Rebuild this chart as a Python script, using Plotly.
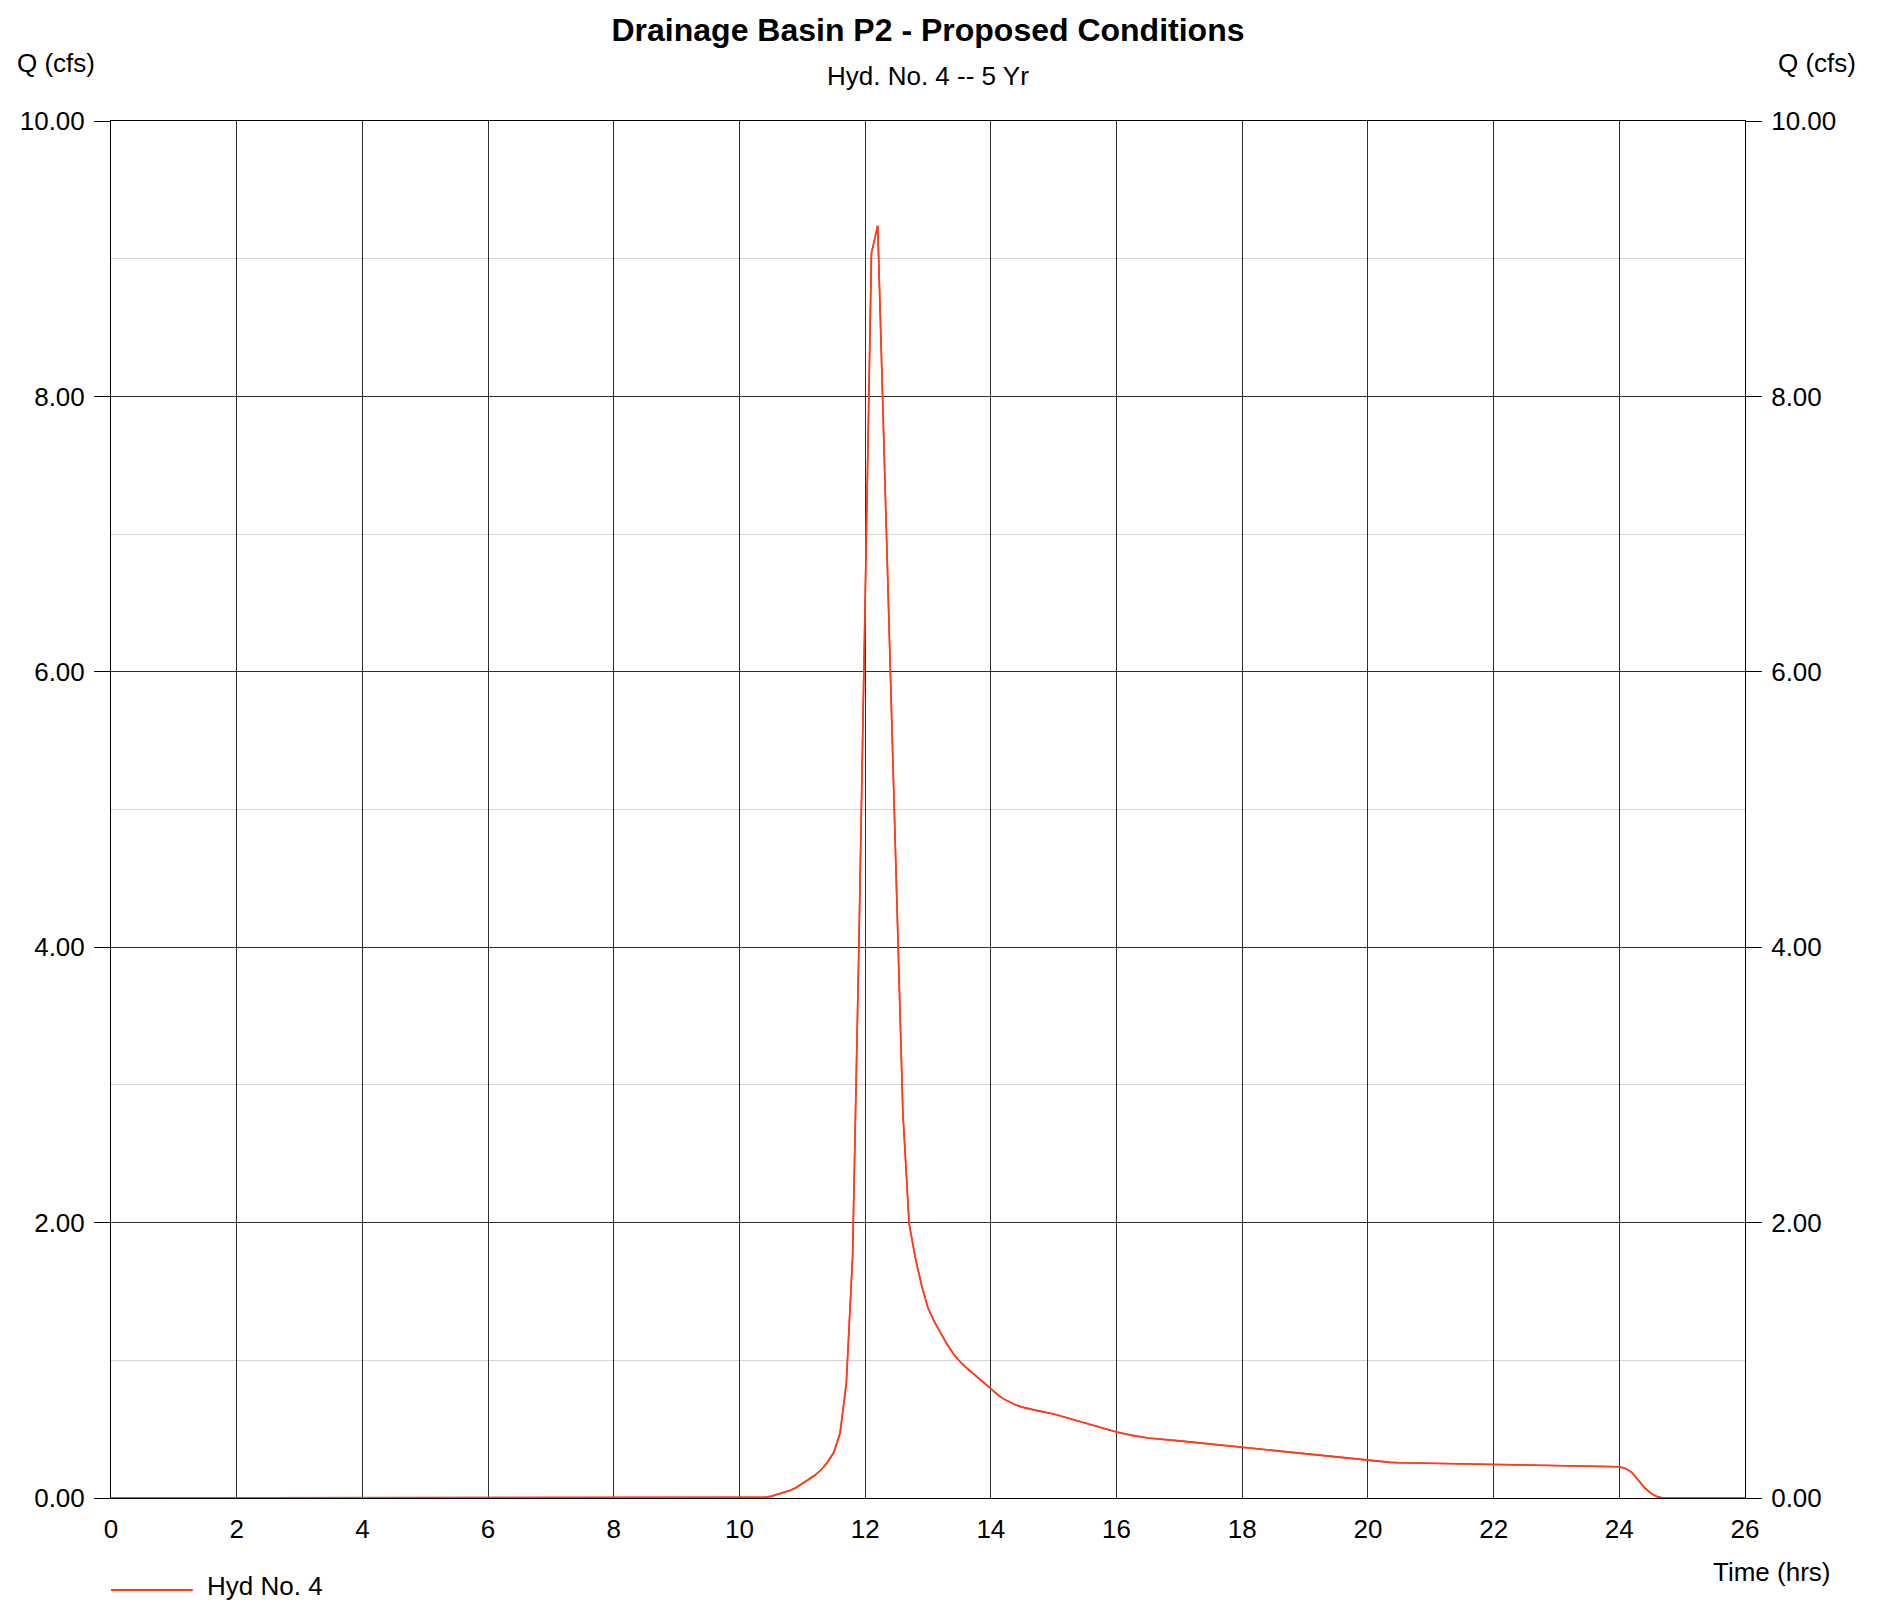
import plotly.graph_objects as go

# ---- data ----
time_hrs = [0, 10.3, 10.4, 10.5, 10.6, 10.7, 10.8, 10.9, 11.0, 11.1, 11.2, 11.3, 11.4,
            11.5, 11.6, 11.7, 11.8, 11.9, 12.0, 12.1, 12.2, 12.3, 12.4, 12.5, 12.6,
            12.7, 12.8, 12.9, 13.0, 13.1, 13.2, 13.3, 13.4, 13.5, 13.6, 13.7, 13.8,
            13.9, 14.0, 14.1, 14.2, 14.3, 14.4, 14.5, 14.6, 14.7, 15.0, 15.5, 15.75,
            16.0, 16.25, 16.5, 17.0, 18.0, 19.0, 20.0, 20.36, 20.5, 21.0, 22.0, 23.0,
            24.0, 24.1, 24.2, 24.3, 24.4, 24.5, 24.6, 24.7, 26.0]
flow_cfs = [0, 0, 0.005, 0.012, 0.025, 0.038, 0.055, 0.075, 0.105, 0.135, 0.165, 0.205, 0.26,
            0.33, 0.47, 0.83, 1.75, 4.0, 6.5, 9.04, 9.24, 7.6, 6.0, 4.4, 2.8,
            1.99, 1.74, 1.54, 1.38, 1.28, 1.195, 1.12, 1.05, 0.995, 0.95, 0.91, 0.87,
            0.83, 0.79, 0.755, 0.72, 0.695, 0.675, 0.66, 0.648, 0.638, 0.61, 0.545, 0.513,
            0.479, 0.455, 0.436, 0.415, 0.367, 0.32, 0.273, 0.259, 0.256, 0.252, 0.244, 0.236,
            0.227, 0.215, 0.185, 0.13, 0.075, 0.035, 0.01, 0, 0]
series_name = "Hyd No. 4"
x_ticks = list(range(0, 27, 2))
y_ticks = [0, 2, 4, 6, 8, 10]

OFF = 8  # page body margin
W, H = 1888 - 2 * OFF, 1610 - 2 * OFF
L, R, T, B = 108 - OFF, 1745 - OFF, 121 - OFF, 1498 - OFF
FONT = "Liberation Sans, Arial, sans-serif"
LINE_COLOR = "#ff3b1a"
GRID = "#2e2e2e"
MINOR = "#d4d4d4"

def px_x(p):
    return (p - OFF - L) / (R - L)

def px_y(p):
    return (B - (p - OFF)) / (B - T)

fig = go.Figure()
fig.add_trace(go.Scatter(x=time_hrs, y=flow_cfs, mode="lines", name=series_name,
                         line=dict(color=LINE_COLOR, width=1.6), showlegend=False))
fig.add_trace(go.Scatter(x=time_hrs, y=flow_cfs, mode="lines", name=series_name,
                         line=dict(color=LINE_COLOR, width=1.6), showlegend=False,
                         yaxis="y2", hoverinfo="skip"))

axis_common = dict(range=[0, 10], tickvals=y_ticks, tickformat=".2f",
                   ticks="outside", ticklen=16, tickcolor="#000000", tickwidth=1,
                   tickfont=dict(size=26, color="#000000", family=FONT),
                   fixedrange=True)

fig.update_layout(
    width=W, height=H,
    margin=dict(l=L, r=W - R, t=T, b=H - B),
    paper_bgcolor="white", plot_bgcolor="white",
    font=dict(family=FONT, color="#000000", size=26),
    showlegend=False,
    title=dict(text="<b>Drainage Basin P2 - Proposed Conditions</b>",
               font=dict(size=32, family=FONT, color="#000000"),
               x=0.5, xref="paper", xanchor="center",
               y=1 - (30 - OFF) / H, yref="container", yanchor="middle"),
    xaxis=dict(range=[0, 26], tickvals=x_ticks, showgrid=True, gridcolor=GRID, gridwidth=1,
               showline=True, linecolor="#000000", linewidth=1, mirror=True,
               zeroline=False, ticks="", ticklabelstandoff=8,
               tickfont=dict(size=26, color="#000000", family=FONT)),
    yaxis=dict(**axis_common, showgrid=True, gridcolor=GRID, gridwidth=1,
               minor=dict(dtick=1, showgrid=True, gridcolor=MINOR, gridwidth=1),
               showline=True, linecolor="#000000", linewidth=1, mirror=True,
               zeroline=False, side="left", ticklabelstandoff=4),
    yaxis2=dict(**axis_common, overlaying="y", side="right", showgrid=False,
                zeroline=False, showline=False, ticklabelstandoff=4),
)

annotations = [
    dict(text="Hyd. No. 4 -- 5 Yr", x=0.5, y=px_y(76), xanchor="center", yanchor="middle",
         font=dict(size=26)),
    dict(text="Q (cfs)", x=px_x(12), y=px_y(63), xanchor="left", yanchor="middle",
         font=dict(size=26)),
    dict(text="Q (cfs)", x=px_x(1776), y=px_y(63), xanchor="left", yanchor="middle",
         font=dict(size=26)),
    dict(text="Time (hrs)", x=px_x(1832), y=px_y(1572), xanchor="right", yanchor="middle",
         font=dict(size=26)),
    dict(text=series_name, x=px_x(203), y=px_y(H + OFF), xanchor="left", yanchor="bottom",
         borderpad=0, font=dict(size=26)),
]
for a in annotations:
    a.update(xref="paper", yref="paper", showarrow=False)
fig.update_layout(annotations=annotations)

# manual legend sample line
fig.add_shape(type="line", xref="paper", yref="paper",
              x0=px_x(108), x1=px_x(190), y0=px_y(1590), y1=px_y(1590),
              line=dict(color=LINE_COLOR, width=2))

fig.write_html("out.html")
